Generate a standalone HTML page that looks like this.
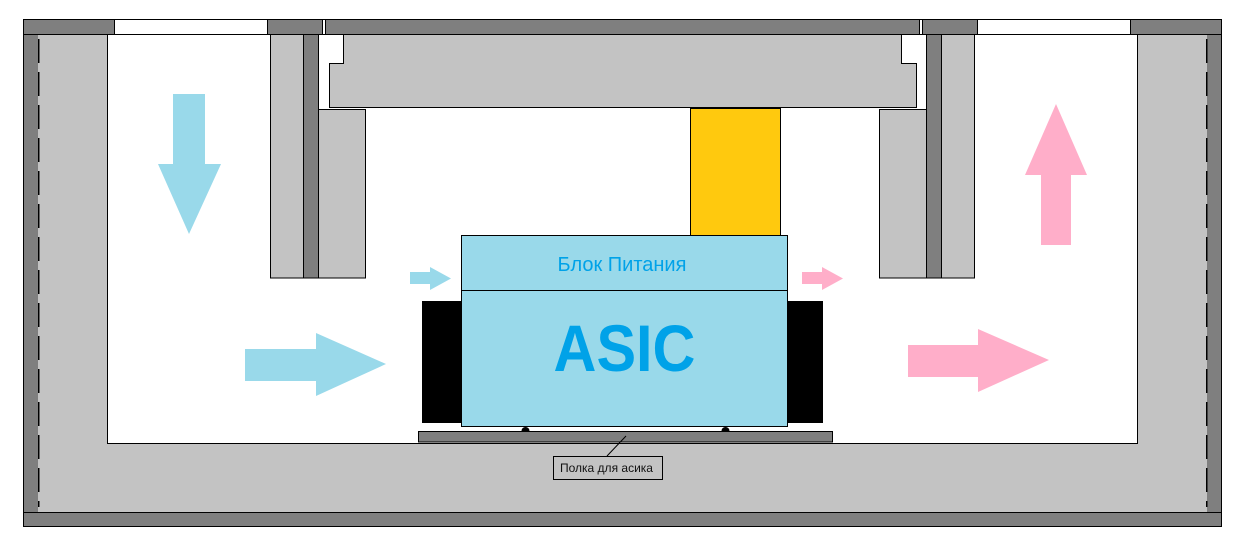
<!DOCTYPE html>
<html>
<head>
<meta charset="utf-8">
<style>
  html,body{margin:0;padding:0;background:#fff;}
  svg{display:block;}
</style>
</head>
<body>
<svg width="1242" height="550" viewBox="0 0 1242 550" xmlns="http://www.w3.org/2000/svg">
  <rect x="0" y="0" width="1242" height="550" fill="#fff"/>
  <!-- light gray body -->
  <rect x="23" y="34" width="1199" height="479" fill="#c3c3c3"/>
  <!-- side dark strips -->
  <rect x="23" y="34" width="15" height="479" fill="#7f7f7f"/>
  <rect x="1207" y="34" width="15" height="479" fill="#7f7f7f"/>
  <!-- dashes -->
  <line x1="38.5" y1="39" x2="38.5" y2="507" stroke="#000" stroke-width="1.5" stroke-dasharray="24 9" shape-rendering="crispEdges"/>
  <line x1="1206.5" y1="39" x2="1206.5" y2="507" stroke="#000" stroke-width="1.5" stroke-dasharray="24 9" shape-rendering="crispEdges"/>
  <!-- inner white area -->
  <rect x="107.5" y="34.5" width="1030" height="409" fill="#fff" stroke="#000" stroke-width="1"/>
  <!-- outer border -->
  <rect x="23.5" y="19.5" width="1198" height="507" fill="none" stroke="#000" stroke-width="1"/>
  <!-- top bar -->
  <rect x="23.5" y="19.5" width="1198" height="15" fill="#7f7f7f" stroke="#000" stroke-width="1"/>
  <rect x="114.5" y="19.5" width="153" height="15" fill="#fff" stroke="#000" stroke-width="1"/>
  <rect x="322.5" y="19.5" width="3" height="15" fill="#fff" stroke="#000" stroke-width="1"/>
  <rect x="919.5" y="19.5" width="3" height="15" fill="#fff" stroke="#000" stroke-width="1"/>
  <rect x="977.5" y="19.5" width="153" height="15" fill="#fff" stroke="#000" stroke-width="1"/>
  <!-- bottom bar -->
  <rect x="23.5" y="512.5" width="1198" height="14" fill="#7f7f7f" stroke="#000" stroke-width="1"/>

  <!-- left hanging column -->
  <rect x="270.5" y="34.5" width="33" height="243.5" fill="#c3c3c3" stroke="#000" stroke-width="1"/>
  <rect x="303.5" y="34.5" width="15" height="243.5" fill="#7f7f7f" stroke="#000" stroke-width="1"/>
  <rect x="318.5" y="109.5" width="47" height="168.5" fill="#c3c3c3" stroke="#000" stroke-width="1"/>
  <!-- right hanging column -->
  <rect x="879.5" y="109.5" width="47" height="168.5" fill="#c3c3c3" stroke="#000" stroke-width="1"/>
  <rect x="926.5" y="34.5" width="15" height="243.5" fill="#7f7f7f" stroke="#000" stroke-width="1"/>
  <rect x="941.5" y="34.5" width="33" height="243.5" fill="#c3c3c3" stroke="#000" stroke-width="1"/>
  <!-- lid -->
  <polygon points="343.5,34.5 901.5,34.5 901.5,63.5 916.5,63.5 916.5,107.5 329.5,107.5 329.5,63.5 343.5,63.5" fill="#c3c3c3" stroke="#000" stroke-width="1"/>

  <!-- yellow block -->
  <rect x="690.5" y="108.5" width="90" height="127" fill="#ffc90e" stroke="#000" stroke-width="1"/>

  <!-- black side blocks -->
  <rect x="422" y="301" width="39" height="122" fill="#000"/>
  <rect x="788" y="301" width="35" height="122" fill="#000"/>

  <!-- PSU & ASIC -->
  <rect x="461.5" y="235.5" width="326" height="55" fill="#99d9ea" stroke="#000" stroke-width="1"/>
  <rect x="461.5" y="290.5" width="326" height="136" fill="#99d9ea" stroke="#000" stroke-width="1"/>
  <text x="622" y="271" text-anchor="middle" font-family="Liberation Sans, Arial, sans-serif" font-size="20" fill="#00a2e8">Блок Питания</text>
  <g transform="translate(624.5,371) scale(0.9,1)">
    <text x="0" y="0" text-anchor="middle" font-family="Liberation Sans, Arial, sans-serif" font-size="66" font-weight="bold" fill="#00a2e8">ASIC</text>
  </g>

  <!-- feet -->
  <circle cx="525.5" cy="431" r="4" fill="#000"/>
  <circle cx="725.5" cy="431" r="4" fill="#000"/>
  <!-- shelf -->
  <rect x="418.5" y="431.5" width="414" height="10.5" fill="#7f7f7f" stroke="#000" stroke-width="1"/>

  <!-- label -->
  <line x1="607" y1="456" x2="626" y2="436" stroke="#000" stroke-width="1"/>
  <rect x="553.5" y="456.5" width="109" height="23" fill="#c3c3c3" stroke="#000" stroke-width="1"/>
  <text x="560" y="472" font-family="Liberation Sans, Arial, sans-serif" font-size="12" fill="#111">Полка для асика</text>

  <!-- blue arrows -->
  <polygon points="173,94 205,94 205,164 221,164 189,234 158,164 173,164" fill="#99d9ea"/>
  <polygon points="245,349 316,349 316,333 386,364 316,396 316,381 245,381" fill="#99d9ea"/>
  <polygon points="410,272 430,272 430,267 451,278.5 430,290 430,284 410,284" fill="#99d9ea"/>
  <!-- pink arrows -->
  <polygon points="1056,104 1087,175 1071,175 1071,245 1041,245 1041,175 1025,175" fill="#ffaec9"/>
  <polygon points="908,345 978,345 978,329 1049,360 978,392 978,377 908,377" fill="#ffaec9"/>
  <polygon points="802,272 822,272 822,267 843,278.5 822,290 822,284 802,284" fill="#ffaec9"/>
</svg>
</body>
</html>
